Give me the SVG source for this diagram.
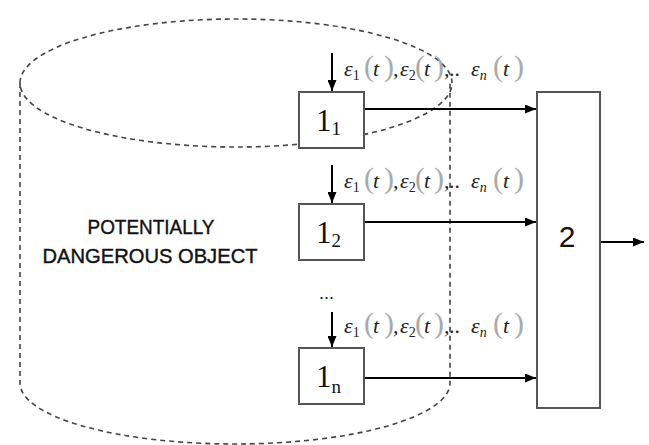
<svg xmlns="http://www.w3.org/2000/svg" width="649" height="445" viewBox="0 0 649 445">
<style>
.dash{fill:none;stroke:#444;stroke-width:1.6;stroke-dasharray:5,4}
.box{fill:#fff;stroke:#555;stroke-width:2}
.arr{stroke:#000;stroke-width:2;fill:none;marker-end:url(#ah)}
.eps{font-family:"Liberation Serif",serif;font-style:italic;font-size:22px;fill:#222}
.sub{font-size:14px;font-style:normal}
.subi{font-size:14px;font-style:italic}
.par{font-family:"Liberation Serif",serif;font-size:30px;fill:#aaa;font-style:normal}
.num{font-family:"Liberation Serif",serif;font-size:31px;fill:#111}
.nsub{font-size:19px}
.lbl{font-family:"Liberation Sans",Arial,sans-serif;font-size:21px;fill:#111;stroke:#111;stroke-width:0.4;text-anchor:middle}
</style>
<defs>
<marker id="ah" viewBox="0 0 11 9" refX="11" refY="4.5" markerWidth="11" markerHeight="9" markerUnits="userSpaceOnUse" orient="auto">
<path d="M0,0 L11,4.5 L0,9 Z" fill="#000"/>
</marker>
</defs>
<g id="object">
<path class="dash" d="M20,83 A216,64 0 0 1 452,83 A216,64 0 0 1 20,83 Z"/>
<path class="dash" d="M20,83 L20,383 A215,61 0 0 0 450,383 L450,83"/>
<text class="lbl" x="151" y="234" textLength="127" lengthAdjust="spacingAndGlyphs">POTENTIALLY</text>
<text class="lbl" x="150" y="263" textLength="215" lengthAdjust="spacingAndGlyphs">DANGEROUS OBJECT</text>
</g>
<g id="connectors">
<line class="arr" x1="332" y1="53" x2="332" y2="91"/>
<line class="arr" x1="332" y1="165" x2="332" y2="203"/>
<line class="arr" x1="332" y1="312" x2="332" y2="347"/>
<line class="arr" x1="365" y1="109" x2="536" y2="109"/>
<line class="arr" x1="365" y1="222" x2="536" y2="222"/>
<line class="arr" x1="365" y1="378" x2="536" y2="378"/>
<line class="arr" x1="600" y1="242" x2="644" y2="242"/>
</g>
<g id="labels">
<text class="eps" y="76"><tspan x="344">ε</tspan><tspan class="sub" dy="4">1</tspan><tspan class="par" x="364" dy="-4">(</tspan><tspan x="373">t</tspan><tspan class="par" x="384">)</tspan><tspan x="393">,</tspan><tspan x="400">ε</tspan><tspan class="sub" dy="4">2</tspan><tspan class="par" x="415" dy="-4">(</tspan><tspan x="424">t</tspan><tspan class="par" x="434">)</tspan><tspan x="444">,..</tspan><tspan x="471">ε</tspan><tspan class="subi" dy="4">n</tspan><tspan class="par" x="493" dy="-4">(</tspan><tspan x="503">t</tspan><tspan class="par" x="514">)</tspan></text>
<text class="eps" y="188"><tspan x="344">ε</tspan><tspan class="sub" dy="4">1</tspan><tspan class="par" x="364" dy="-4">(</tspan><tspan x="373">t</tspan><tspan class="par" x="384">)</tspan><tspan x="393">,</tspan><tspan x="400">ε</tspan><tspan class="sub" dy="4">2</tspan><tspan class="par" x="415" dy="-4">(</tspan><tspan x="424">t</tspan><tspan class="par" x="434">)</tspan><tspan x="444">,..</tspan><tspan x="471">ε</tspan><tspan class="subi" dy="4">n</tspan><tspan class="par" x="493" dy="-4">(</tspan><tspan x="503">t</tspan><tspan class="par" x="514">)</tspan></text>
<text class="eps" y="333"><tspan x="344">ε</tspan><tspan class="sub" dy="4">1</tspan><tspan class="par" x="364" dy="-4">(</tspan><tspan x="373">t</tspan><tspan class="par" x="384">)</tspan><tspan x="393">,</tspan><tspan x="400">ε</tspan><tspan class="sub" dy="4">2</tspan><tspan class="par" x="415" dy="-4">(</tspan><tspan x="424">t</tspan><tspan class="par" x="434">)</tspan><tspan x="444">,..</tspan><tspan x="471">ε</tspan><tspan class="subi" dy="4">n</tspan><tspan class="par" x="493" dy="-4">(</tspan><tspan x="503">t</tspan><tspan class="par" x="514">)</tspan></text>
<text x="319" y="299" style="font-family:'Liberation Sans',sans-serif;font-size:18px;fill:#111">...</text>
</g>
<g id="node-1-1">
<rect class="box" x="299" y="92" width="65" height="56"/>
<text class="num" x="316" y="131">1<tspan class="nsub" dy="4">1</tspan></text>
</g>
<g id="node-1-2">
<rect class="box" x="299" y="204" width="65" height="56"/>
<text class="num" x="316" y="243">1<tspan class="nsub" dy="4">2</tspan></text>
</g>
<g id="node-1-n">
<rect class="box" x="299" y="348" width="65" height="56"/>
<text class="num" x="316" y="387">1<tspan class="nsub" dy="6">n</tspan></text>
</g>
<g id="node-2">
<rect class="box" x="537" y="92" width="63" height="316"/>
<text x="567" y="247" style="font-family:'Liberation Sans',sans-serif;font-size:30px;fill:#111;text-anchor:middle">2</text>
</g>
</svg>
